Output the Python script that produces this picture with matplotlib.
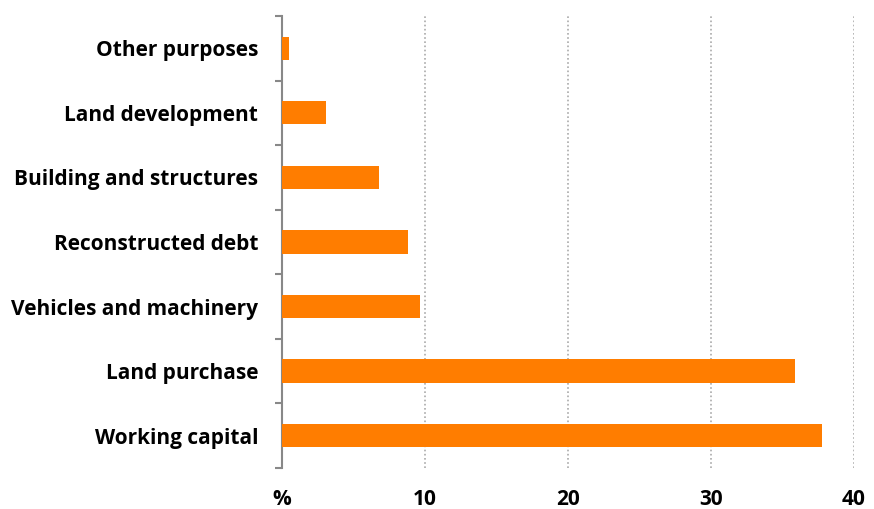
import matplotlib
matplotlib.use('Agg')
import matplotlib.pyplot as plt
import numpy as np

categories = ['Working capital', 'Land purchase', 'Vehicles and machinery',
              'Reconstructed debt', 'Building and structures',
              'Land development', 'Other purposes']
shares = [37.8, 35.9, 9.7, 8.8, 6.8, 3.1, 0.5]
xticks = [0, 10, 20, 30, 40]
xticklabels = ['%', '10', '20', '30', '40']

plt.rcParams['font.family'] = ['Open Sans', 'DejaVu Sans']

fig = plt.figure(figsize=(8.74, 5.09), dpi=100)
ax = fig.add_axes([0.3223, 0.0806, 0.6545, 0.888])

y = np.arange(len(categories))
ax.barh(y, shares, height=0.36, color='#ff7d00', zorder=3)

ax.set_xlim(0, 40)
ax.set_ylim(-0.5, len(categories) - 0.5)
ax.set_xticks(xticks)
ax.set_xticklabels(xticklabels, fontsize=15, fontweight='bold')
ax.set_yticks(y)
ax.set_yticklabels(categories, fontsize=15, fontweight='bold')
ax.set_yticks(np.arange(-0.5, len(categories)), minor=True)

ax.tick_params(axis='y', which='major', length=0, pad=17)
ax.tick_params(axis='y', which='minor', length=5, width=1.5, color='#888888')
ax.tick_params(axis='x', length=0, pad=15)

ax.xaxis.grid(True, linestyle=(0, (1, 1.5)), color='#aaaaaa', linewidth=1.2, zorder=0)
for s in ['top', 'right', 'bottom']:
    ax.spines[s].set_visible(False)
ax.spines['left'].set_color('#888888')
ax.spines['left'].set_linewidth(1.5)

fig.savefig('out.png', dpi=100)
